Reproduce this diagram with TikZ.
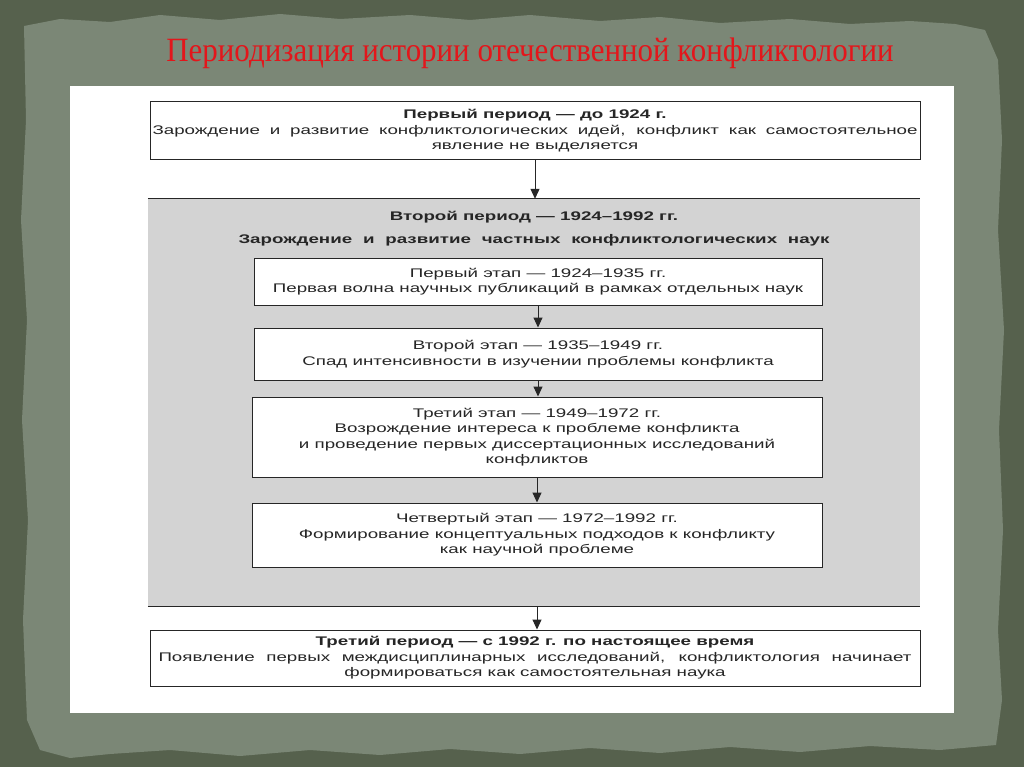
\documentclass[tikz,border=0pt]{standalone}
\usepackage{fontspec}
\setmainfont{Liberation Sans}
\newfontfamily\titlefont{Liberation Serif}
\usetikzlibrary{arrows.meta}
\definecolor{frameC}{HTML}{56614D}
\definecolor{paperC}{HTML}{7B8776}
\definecolor{panelC}{HTML}{D3D3D3}
\definecolor{titleC}{HTML}{E3161B}
\definecolor{inkC}{HTML}{262626}
\begin{document}
\begin{tikzpicture}[x=1pt,y=-1pt,
  box/.style={draw=inkC, line width=1pt, fill=white, inner sep=0pt},
  txt/.style={font=\fontsize{12.5}{15.5}\selectfont, align=center, xscale=1.5, transform shape, inner sep=0pt, text=inkC},
  arr/.style={-{Triangle[length=10pt,width=9pt]}, line width=1pt, draw=inkC}]
\useasboundingbox (0,0) rectangle (1024,767);
\fill[frameC] (0,0) rectangle (1024,767);
\fill[paperC] (24,26) -- (60,19) -- (110,22) -- (160,15) -- (220,20) -- (280,14) -- (340,19) -- (410,15) -- (470,20) -- (530,15) -- (600,21) -- (660,17) -- (720,23) -- (790,19) -- (850,24) -- (910,21) -- (955,24) -- (985,30) -- (998,60) -- (1002,140) -- (998,230) -- (1004,330) -- (999,430) -- (1003,530) -- (998,630) -- (1002,700) -- (996,745) -- (940,750) -- (870,746) -- (800,752) -- (730,747) -- (660,753) -- (590,748) -- (520,754) -- (450,749) -- (380,755) -- (310,750) -- (240,756) -- (170,750) -- (110,754) -- (70,758) -- (40,750) -- (27,720) -- (23,620) -- (28,520) -- (22,420) -- (27,320) -- (21,220) -- (26,120) -- cycle;
\fill[white] (70,86) rectangle (954,713);
\node[font=\titlefont\fontsize{34}{34}\selectfont, text=titleC, inner sep=0pt, xscale=0.91, transform shape] (title) at (530,53) {Периодизация истории отечественной конфликтологии};
% first period
\node[box, minimum width=770pt, minimum height=58pt] (p1) at (535,131) {};
\node[txt] (p1t) at (p1) {\textbf{Первый период — до 1924 г.}\\\makebox[510pt][s]{Зарождение и развитие конфликтологических идей, конфликт как самостоятельное}\\явление не выделяется};
% second period panel
\node[fill=panelC, minimum width=772pt, minimum height=407pt, inner sep=0pt] (p2) at (534,402.5) {};
\draw[inkC, line width=1pt] (p2.north west) -- (p2.north east);
\draw[inkC, line width=1pt] (p2.south west) -- (p2.south east);
\node[txt] (p2a) at (534,217) {\textbf{Второй период — 1924–1992 гг.}};
\node[txt] (p2b) at (534,240) {\makebox[394pt][s]{\textbf{Зарождение и развитие частных конфликтологических наук}}};
\node[box, minimum width=568pt, minimum height=47pt] (s1) at (538,281.5) {};
\node[txt] (s1t) at (s1) {Первый этап — 1924–1935 гг.\\Первая волна научных публикаций в рамках отдельных наук};
\node[box, minimum width=568pt, minimum height=52pt] (s2) at (538,354) {};
\node[txt] (s2t) at (s2) {Второй этап — 1935–1949 гг.\\Спад интенсивности в изучении проблемы конфликта};
\node[box, minimum width=570pt, minimum height=80pt] (s3) at (537,437) {};
\node[txt] (s3t) at (s3) {Третий этап — 1949–1972 гг.\\Возрождение интереса к проблеме конфликта\\и проведение первых диссертационных исследований\\конфликтов};
\node[box, minimum width=570pt, minimum height=64pt] (s4) at (537,535) {};
\node[txt] (s4t) at (s4) {Четвертый этап — 1972–1992 гг.\\Формирование концептуальных подходов к конфликту\\как научной проблеме};
% third period
\node[box, minimum width=770pt, minimum height=56pt] (p3) at (535,658) {};
\node[txt] (p3t) at (p3) {\textbf{Третий период — с 1992 г. по настоящее время}\\\makebox[502pt][s]{Появление первых междисциплинарных исследований, конфликтология начинает}\\формироваться как самостоятельная наука};
% arrows
\draw[arr] (p1.south) -- (p1.south |- p2.north);
\draw[arr] (s1.south) -- (s2.north);
\draw[arr] (s2.south) -- (s2.south |- s3.north);
\draw[arr] (s3.south) -- (s4.north);
\draw[arr] (s4.south |- p2.south) -- (s4.south |- p3.north);
\end{tikzpicture}
\end{document}
